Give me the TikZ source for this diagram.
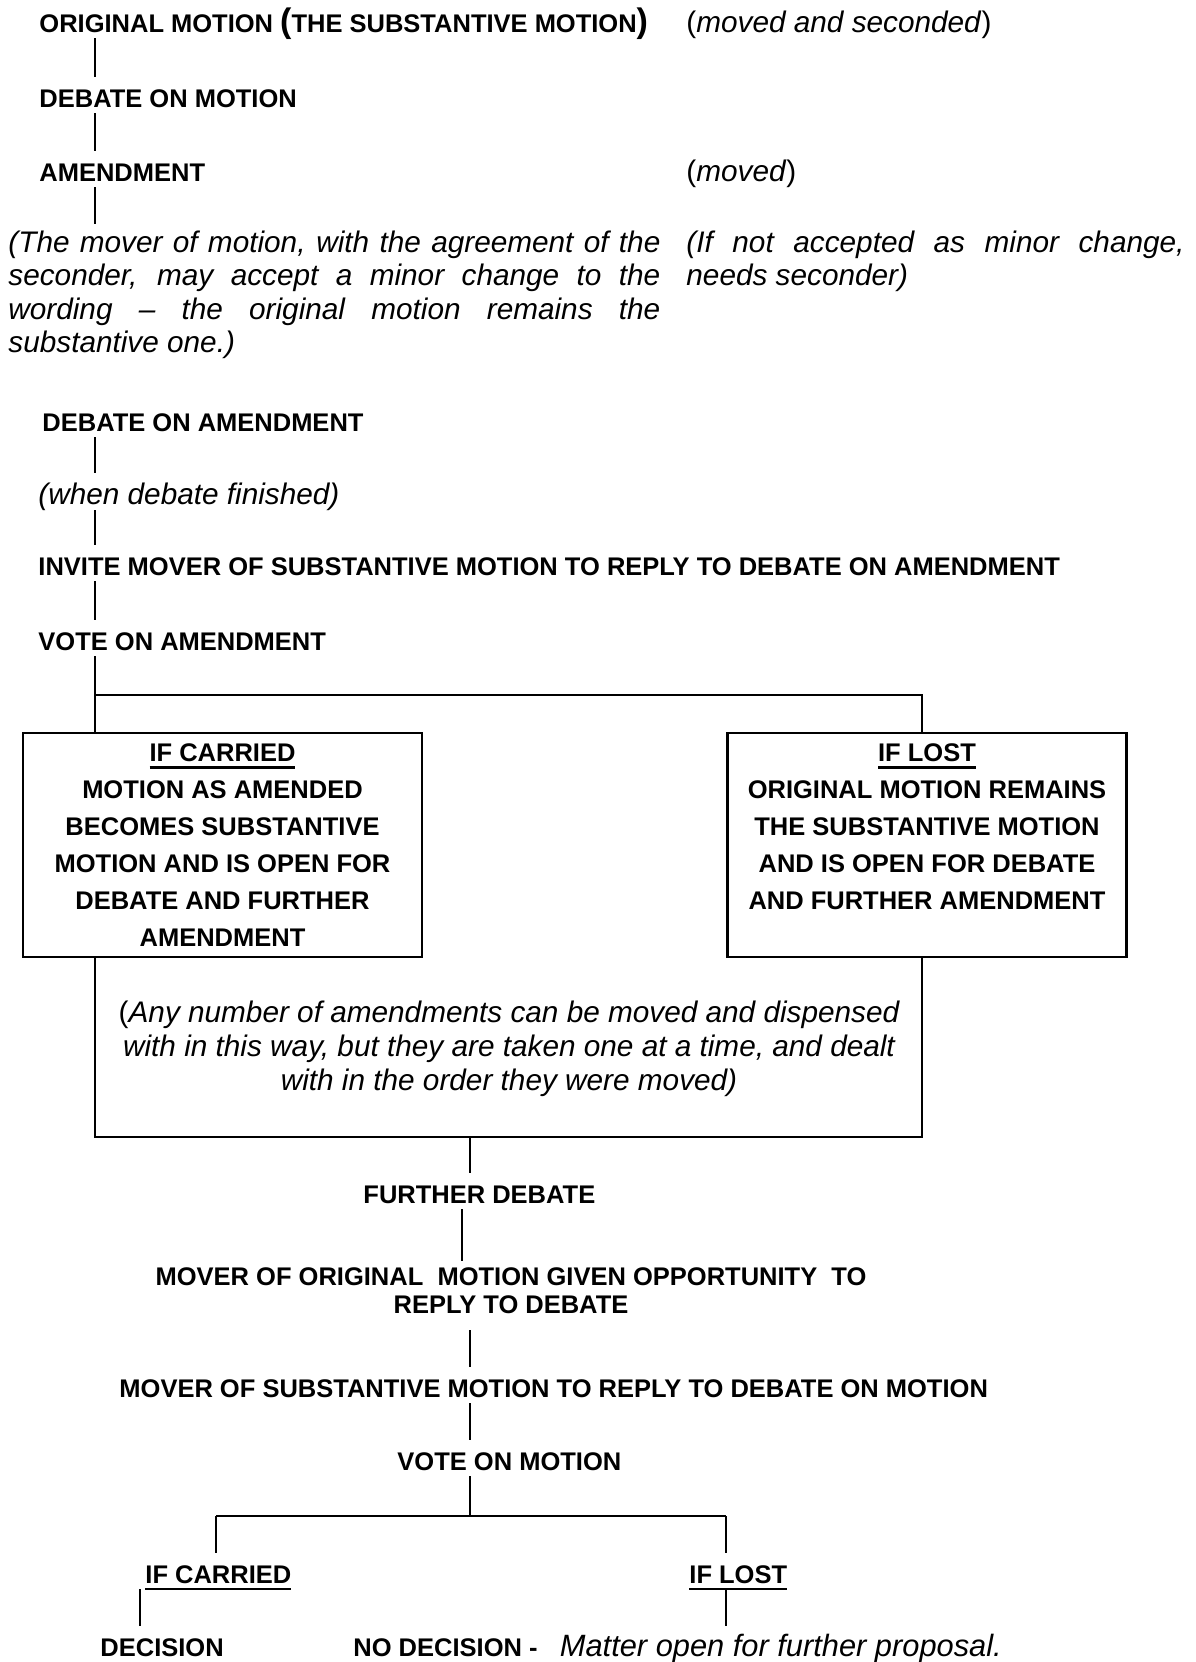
\documentclass[tikz,border=0pt]{standalone}
\usepackage{fontspec}
\setmainfont{Liberation Sans}
\newcommand{\headline}[1]{\vtop{\hbox{#1}\kern2.2pt\hrule height1.2pt}}
\tikzset{
  stage/.style={font=\bfseries\fontsize{12}{14}\selectfont, anchor=base west, inner xsep=0pt, inner ysep=2.8pt, text height=11pt, text depth=0pt},
  aside/.style={font=\fontsize{14}{16}\selectfont, anchor=base west, inner xsep=0pt, inner ysep=2.8pt, text height=11.8pt, text depth=0pt},
  para/.style={font=\itshape\fontsize{14}{15.7}\selectfont, align=left, anchor=north west, inner xsep=0pt, inner ysep=3pt},
  outcome/.style={draw, line width=1.2pt, font=\bfseries\fontsize{12}{17.4}\selectfont, align=center, minimum width=187.8pt, minimum height=105.4pt, inner sep=0pt},
  link/.style={line width=0.7pt},
  heavy/.style={line width=1.2pt}
}
\begin{document}
\begin{tikzpicture}[x=0.4706pt, y=-0.4706pt]
    \useasboundingbox (0,0) rectangle (1196,1662);
    \coordinate (spine) at (95,0);
    \coordinate (rspine) at (922,0);
    \coordinate (cspine) at (470,0);
    \coordinate (dspine) at (462,0);

    % motion and amendment
    \node[stage] (orig) at (39,32) {ORIGINAL MOTION {\fontsize{16}{16}\selectfont(}THE SUBSTANTIVE MOTION{\fontsize{16}{16}\selectfont)}};
    \node[aside] (movsec) at (686,32) {(\textit{moved and seconded})};
    \node[stage] (debm) at (39,107) {DEBATE ON MOTION};
    \node[stage] (amend) at (39,181) {AMENDMENT};
    \node[aside] (moved) at (686,181) {(\textit{moved})};
    \node[para] (minor) at (8,224) {\makebox[306.8pt][s]{(The mover of motion, with the agreement of the}\\
        \makebox[306.8pt][s]{seconder, may accept a minor change to the}\\
        \makebox[306.8pt][s]{wording -- the original motion remains the}\\
        substantive one.)};
    \node[para] (second) at (686,224) {\makebox[234.4pt][s]{(If not accepted as minor change,}\\ needs seconder)};

    \draw[link] (orig.south -| spine) -- (debm.north -| spine);
    \draw[link] (debm.south -| spine) -- (amend.north -| spine);
    \draw[link] (amend.south -| spine) -- (minor.north -| spine);

    % debate on the amendment
    \node[stage] (debam) at (42,431) {DEBATE ON AMENDMENT};
    \node[aside] (finish) at (38,504) {\itshape (when debate finished)};
    \node[stage] (invite) at (38,575) {INVITE MOVER OF SUBSTANTIVE MOTION TO REPLY TO DEBATE ON AMENDMENT};
    \node[stage] (voteam) at (38,650) {VOTE ON AMENDMENT};

    \draw[link] (debam.south -| spine) -- (finish.north -| spine);
    \draw[link] (finish.south -| spine) -- (invite.north -| spine);
    \draw[link] (invite.south -| spine) -- (voteam.north -| spine);

    % result of the vote on the amendment
    \coordinate (fork) at (95,695);
    \node[outcome] (carried) at (222.5,845) {\headline{IF CARRIED}\\ MOTION AS AMENDED\\ BECOMES SUBSTANTIVE\\ MOTION AND IS OPEN FOR\\ DEBATE AND FURTHER\\ AMENDMENT};
    \node[outcome] (lost) at (927,845) {\headline{IF LOST}\\ ORIGINAL MOTION REMAINS\\ THE SUBSTANTIVE MOTION\\ AND IS OPEN FOR DEBATE\\ AND FURTHER AMENDMENT\\ \mbox{}};
    \draw[link] (voteam.south -| spine) -- (fork);
    \draw[heavy] (fork) -- (carried.north -| spine);
    \draw[heavy] (fork) -- (fork -| rspine) -- (lost.north -| rspine);

    \coordinate (ubl) at (95,1137);
    \coordinate (ubr) at (922,1137);
    \draw[heavy] (carried.south -| spine) -- (ubl) -- (ubr) -- (lost.south -| rspine);
    \node[font=\itshape\fontsize{14}{16}\selectfont, align=center, anchor=north, inner xsep=0pt, inner ysep=3pt] (anynote) at (509,994)
        {{\upshape(}Any number of amendments can be moved and dispensed\\ with in this way, but they are taken one at a time, and dealt\\ with in the order they were moved)};

    % debate on the substantive motion
    \node[stage] (furth) at (363,1203) {FURTHER DEBATE};
    \node[font=\bfseries\fontsize{12}{13.2}\selectfont, align=center, anchor=north, inner xsep=0pt, inner ysep=2.8pt] (origrep) at (511,1261)
        {MOVER OF ORIGINAL\ \ MOTION GIVEN OPPORTUNITY\ \ TO\\ REPLY TO DEBATE};
    \node[stage] (substrep) at (119,1397) {MOVER OF SUBSTANTIVE MOTION TO REPLY TO DEBATE ON MOTION};
    \node[stage] (votemo) at (397,1470) {VOTE ON MOTION};

    \draw[link] (ubl -| cspine) -- (furth.north -| cspine);
    \draw[link] (furth.south -| dspine) -- (origrep.north -| dspine);
    \draw[link, shorten <=5pt] (origrep.south -| cspine) -- (substrep.north -| cspine);
    \draw[link] (substrep.south -| cspine) -- (votemo.north -| cspine);

    % result of the vote on the motion
    \coordinate (fork2) at (470,1516);
    \coordinate (lfork) at (216,1516);
    \coordinate (rfork) at (726,1516);
    \coordinate (ldrop) at (140,0);
    \node[stage] (ifcar) at (145,1583) {\headline{IF CARRIED}};
    \node[stage] (iflost) at (689,1583) {\headline{IF LOST}};
    \node[stage] (decis) at (100,1656) {DECISION};
    \node[stage] (nodec) at (353,1656) {NO DECISION -\hspace{10.5pt}{\mdseries\itshape\fontsize{14.5}{16}\selectfont Matter open for further proposal.}};

    \draw[link] (votemo.south -| cspine) -- (fork2);
    \draw[heavy] (lfork) -- (rfork);
    \draw[link] (lfork) -- (ifcar.north -| lfork);
    \draw[link] (rfork) -- (iflost.north -| rfork);
    \draw[link] (ifcar.south -| ldrop) -- (decis.north -| ldrop);
    \draw[link] (iflost.south -| rfork) -- (nodec.north -| rfork);
\end{tikzpicture}
\end{document}
